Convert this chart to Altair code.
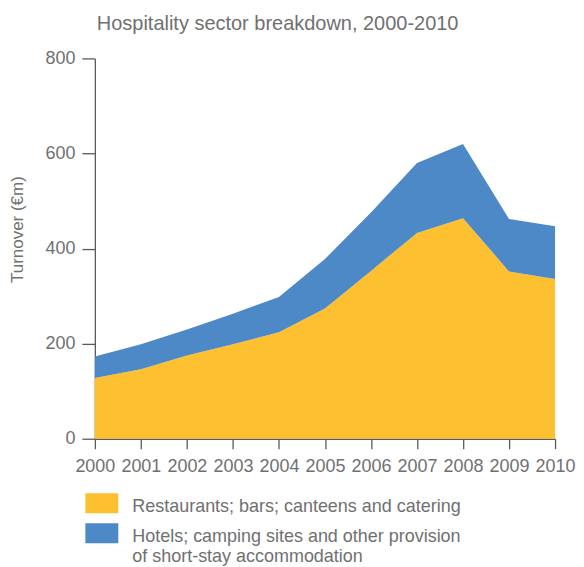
import altair as alt
import pandas as pd

years = [2000, 2001, 2002, 2003, 2004, 2005, 2006, 2007, 2008, 2009, 2010]
restaurants = [128, 146, 175, 199, 224, 274, 353, 433, 464, 352, 336]
hotels = [45, 53, 55, 64, 74, 104, 123, 147, 156, 110, 111]

s_rest = "Restaurants; bars; canteens and catering"
s_hotel = "Hotels; camping sites and other provision of short-stay accommodation"
hotel_lines = ["Hotels; camping sites and other provision", "of short-stay accommodation"]

y_ticks = [0, 200, 400, 600, 800]

rows = []
for yr, r, h in zip(years, restaurants, hotels):
    rows.append({"year": yr, "sector": s_rest, "value": r, "order": 0})
    rows.append({"year": yr, "sector": s_hotel, "value": h, "order": 1})
df = pd.DataFrame(rows)

FONT = "Liberation Sans"
GRAY = "#707070"
AXIS = "#5a5a5a"

label_expr = "datum.label == '%s' ? ['%s', '%s'] : datum.label" % (s_hotel, hotel_lines[0], hotel_lines[1])

chart = alt.Chart(df).mark_area(opacity=1).encode(
    x=alt.X("year:Q",
            scale=alt.Scale(domain=[2000, 2010], nice=False, zero=False),
            axis=alt.Axis(values=years, format="d", title=None, tickSize=10,
                          labelPadding=9, labelOverlap=False, grid=False,
                          labelFlush=False)),
    y=alt.Y("value:Q", stack="zero",
            scale=alt.Scale(domain=[0, 800], nice=False),
            axis=alt.Axis(values=y_ticks, title="Turnover (€m)", tickSize=13,
                          labelPadding=7, grid=False, titleX=-77, titleY=171,
                          titleAlign="center", titleBaseline="middle",
                          titleAngle=270)),
    color=alt.Color("sector:N",
                    scale=alt.Scale(domain=[s_rest, s_hotel], range=["#FDC030", "#4D89C6"]),
                    legend=alt.Legend(title=None, orient="none", legendX=-3, legendY=430,
                                      symbolType="M-1.65,-0.43L1.65,-0.43L1.65,1.57L-1.65,1.57Z",
                                      symbolSize=400, symbolStrokeWidth=0,
                                      labelBaseline="top", labelOffset=20.5,
                                      labelLimit=500, labelFontSize=18, labelColor=GRAY,
                                      labelFont=FONT, rowPadding=2,
                                      labelExpr=label_expr)),
    order=alt.Order("order:Q"),
).properties(
    width=461,
    height=381,
    padding={"left": 1, "top": 6, "right": 0, "bottom": 0},
    title=alt.TitleParams("Hospitality sector breakdown, 2000-2010", anchor="start",
                          frame="group", fontSize=20, font=FONT, fontWeight="normal",
                          color=GRAY, offset=15, dx=2),
).configure_axis(
    labelFont=FONT, labelFontSize=18, labelColor=GRAY,
    titleFont=FONT, titleFontSize=17, titleColor=GRAY, titleFontWeight="normal",
    domainColor=AXIS, tickColor=AXIS, domainWidth=1.3, tickWidth=1.3,
).configure_view(stroke=None)

chart.save("out.html", embed_options={"renderer": "svg", "actions": False})
